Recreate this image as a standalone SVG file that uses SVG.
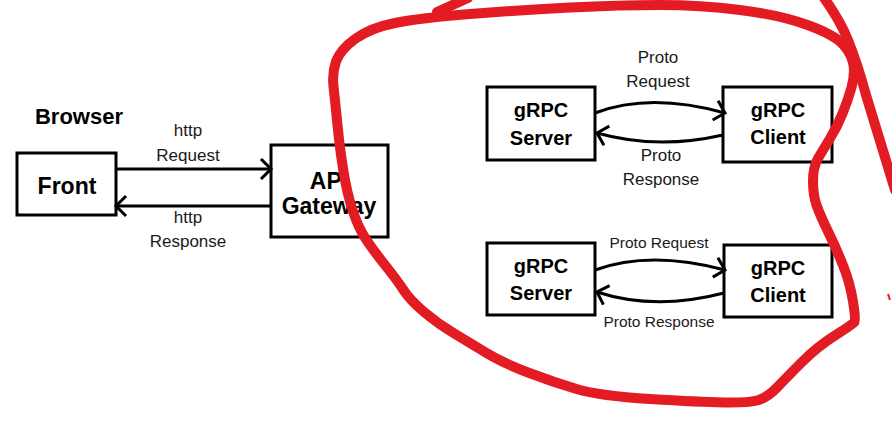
<svg xmlns="http://www.w3.org/2000/svg" width="892" height="440" viewBox="0 0 892 440">
<defs>
<style>
.box{fill:#fff;stroke:#000;stroke-width:3}
.b{font-family:"Liberation Sans",Arial,sans-serif;font-weight:bold;fill:#000;text-anchor:middle}
.t{font-family:"Liberation Sans",Arial,sans-serif;fill:#1a1a1a;text-anchor:middle}
.c{fill:none;stroke:#000;stroke-width:3}
.red{fill:none;stroke:#e31b23;stroke-width:10;stroke-linecap:round;stroke-linejoin:round}
</style>
<marker id="arr" markerUnits="userSpaceOnUse" markerWidth="14" markerHeight="24" viewBox="0 0 14 24" refX="12" refY="12" orient="auto" overflow="visible">
<path d="M2,2 L12,12 L2,22" fill="none" stroke="#000" stroke-width="3"/>
</marker>
</defs>
<rect width="892" height="440" fill="#fff"/>
<text class="b" x="79" y="124" font-size="22">Browser</text>
<g id="front">
<rect class="box" x="17" y="153" width="99" height="62"/>
<text class="b" x="67" y="194" font-size="23">Front</text>
</g>
<g id="gateway">
<rect class="box" x="271" y="145" width="117" height="92"/>
<text class="b" x="329" y="189" font-size="23">API</text>
<text class="b" x="329" y="214" font-size="23">Gateway</text>
</g>
<g id="server1">
<rect class="box" x="487" y="87" width="108" height="73"/>
<text class="b" x="541" y="117" font-size="20">gRPC</text>
<text class="b" x="541" y="145" font-size="20">Server</text>
</g>
<g id="client1">
<rect class="box" x="723" y="87" width="109" height="75"/>
<text class="b" x="778" y="117" font-size="20">gRPC</text>
<text class="b" x="778" y="144" font-size="20">Client</text>
</g>
<g id="server2">
<rect class="box" x="487" y="243" width="108" height="72"/>
<text class="b" x="541" y="273" font-size="20">gRPC</text>
<text class="b" x="541" y="300" font-size="20">Server</text>
</g>
<g id="client2">
<rect class="box" x="724" y="245" width="108" height="72"/>
<text class="b" x="778" y="275" font-size="20">gRPC</text>
<text class="b" x="778" y="302" font-size="20">Client</text>
</g>
<g id="connectors">
<line class="c" x1="116" y1="169" x2="271" y2="169" marker-end="url(#arr)"/>
<line class="c" x1="271" y1="206" x2="116" y2="206" marker-end="url(#arr)"/>
<path class="c" d="M595,113 Q650,92 725,113" marker-end="url(#arr)"/>
<path class="c" d="M723,135 Q657,150 597,133" marker-end="url(#arr)"/>
<path class="c" d="M595,270 Q650,250 725,270" marker-end="url(#arr)"/>
<path class="c" d="M724,293 Q655,311 597,292" marker-end="url(#arr)"/>
<text class="t" x="188" y="136" font-size="17">http</text>
<text class="t" x="188" y="161" font-size="17">Request</text>
<text class="t" x="188" y="223" font-size="17">http</text>
<text class="t" x="188" y="247" font-size="17">Response</text>
<text class="t" x="658" y="63" font-size="17">Proto</text>
<text class="t" x="658" y="87" font-size="17">Request</text>
<text class="t" x="661" y="161" font-size="17">Proto</text>
<text class="t" x="661" y="185" font-size="17">Response</text>
<text class="t" x="659" y="248" font-size="15.5">Proto Request</text>
<text class="t" x="659" y="327" font-size="15.5">Proto Response</text>
</g>
<g id="annotation">
<path class="red" d="M853.5,65 Q855,75 851.5,87.5 Q848,100 842.5,113.5 Q837,127 830,138.5 Q823,150 818,158.5 Q813,167 813,181 Q813,195 816.5,205 Q820,215 828.5,232.5 Q837,250 843.5,266.5 Q850,283 853,301.5 Q856,320 854.5,322 Q853,324 835,335.5 Q817,347 802,362 Q787,377 777,387.5 Q767,398 757,400.5 Q747,403 723.5,402.5 Q700,402 650,399 Q600,396 576.5,389 Q553,382 528,372.5 Q503,363 486.5,353 Q470,343 453.5,333 Q437,323 423.5,311.5 Q410,300 403.5,290 Q397,280 385,265 Q373,250 365.5,238.5 Q358,227 352.5,210 Q347,193 343.5,171.5 Q340,150 337.5,125 Q335,100 333.5,86.5 Q332,73 336,61.5 Q340,50 355,39 Q370,28 395,23 Q420,18 470,14 Q520,10 570,7.5 Q620,5 660,5 Q700,5 740,10 Q780,15 807.5,25 Q835,35 843.5,45 Q852,55 853.5,65 Z"/>
<path class="red" d="M822,-5 Q840,20 848,40 Q858,65 866,95 L895,190"/>
<line class="red" x1="437" y1="12" x2="468" y2="-2"/>
<line x1="888" y1="294" x2="890" y2="300" stroke="#e31b23" stroke-width="2"/>
</g>
</svg>
